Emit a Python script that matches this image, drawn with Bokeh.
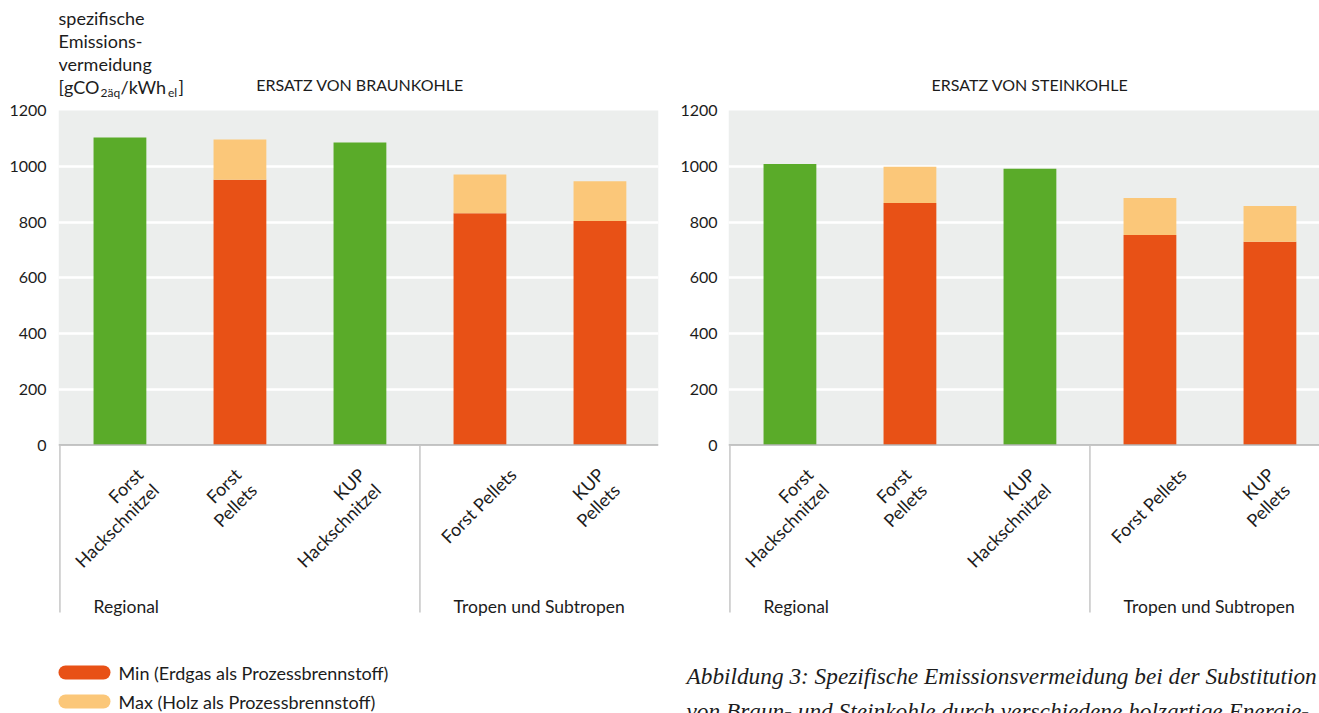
import math

from bokeh.core.properties import value
from bokeh.embed import file_html
from bokeh.layouts import column, row
from bokeh.models import FixedTicker, Range1d
from bokeh.plotting import figure
from bokeh.resources import INLINE

# --- data -------------------------------------------------------------------
categories = ["Forst\nHackschnitzel", "Forst\nPellets", "KUP\nHackschnitzel",
              "Forst Pellets", "KUP\nPellets"]
fuel_kind = ["chips", "pellets", "chips", "pellets", "pellets"]
regions = ["Regional", "Tropen und Subtropen"]
region_first = [0, 3]

# specific avoided emissions, gCO2eq/kWh_el
braun_min = [1103, 952, 1085, 831, 804]
braun_max = [1103, 1096, 1085, 970, 946]
stein_min = [1008, 868, 991, 753, 729]
stein_max = [1008, 998, 991, 886, 857]

y_ticks = [0, 200, 400, 600, 800, 1000, 1200]
panel_titles = ["ERSATZ VON BRAUNKOHLE", "ERSATZ VON STEINKOHLE"]
legend_labels = ["Min (Erdgas als Prozessbrennstoff)", "Max (Holz als Prozessbrennstoff)"]
caption_lines = [
    "Abbildung 3: Spezifische Emissionsvermeidung bei der Substitution",
    "von Braun- und Steinkohle durch verschiedene holzartige Energie-",
]

# --- styling / geometry -----------------------------------------------------
GREEN = "#5aab29"
ORANGE = "#e85116"
LIGHT = "#fbc779"
BG = "#eceeed"
TXT = "#1c1c1c"
FONT = "Lato"

W = 1319
H = 713
TOP_H = 650               # height of the two chart panels; legend strip below
CAT_PX = 120.0            # pixels per category slot
Y_ZERO_PX = 444.5         # pixel row of the zero line
PX_PER_UNIT = 334.5 / 1200.0
BAR_W = 0.44
X0 = -0.012               # left end of each x range
label_nudge_px = [12, -10, -6, 25, -7]   # per-category shift of the slanted labels


def py(pixel_row):
    """Data y for a pixel row of a chart panel."""
    return (Y_ZERO_PX - pixel_row) / PX_PER_UNIT


def make_panel(title, vmin, vmax, width, border_left, border_right, standoff):
    frame_w = width - border_left - border_right
    x_end = X0 + frame_w / CAT_PX
    p = figure(width=width, height=TOP_H, title=None, toolbar_location=None,
               output_backend="svg", x_range=Range1d(X0, x_end),
               y_range=Range1d(py(TOP_H), py(0)), x_axis_location=None,
               min_border_left=border_left, min_border_right=border_right,
               min_border_top=0, min_border_bottom=0)
    p.outline_line_color = None
    p.background_fill_color = "white"
    p.border_fill_color = "white"

    ax = p.yaxis[0]
    ax.ticker = FixedTicker(ticks=y_ticks)
    ax.axis_line_color = None
    ax.major_tick_line_color = None
    ax.minor_tick_line_color = None
    ax.major_label_standoff = standoff
    ax.major_label_text_font = FONT
    ax.major_label_text_font_size = "16px"
    ax.major_label_text_color = TXT

    p.xgrid.visible = False
    p.ygrid.ticker = FixedTicker(ticks=y_ticks[1:-1])
    p.ygrid.grid_line_color = "white"
    p.ygrid.grid_line_width = 2.5

    # plot background band
    p.quad(left=X0, right=x_end, bottom=0, top=y_ticks[-1],
           fill_color=BG, line_color=None, level="image")

    xs = [i + 0.5 for i in range(len(categories))]
    colors = [GREEN if k == "chips" else ORANGE for k in fuel_kind]
    p.vbar(x=xs, width=BAR_W, bottom=0, top=vmin, fill_color=colors, line_color=None)
    p.vbar(x=xs, width=BAR_W, bottom=vmin, top=vmax, fill_color=LIGHT, line_color=None)

    # zero line and region separators
    p.segment(x0=X0, y0=0, x1=x_end, y1=0, line_color="#b3b3b3", line_width=1.5)
    seps = [float(r) for r in region_first]
    p.segment(x0=seps, y0=[0] * len(seps), x1=seps, y1=[py(612)] * len(seps),
              line_color="#c6c6c6", line_width=1.5)

    # slanted category labels
    lx = [x + n / CAT_PX for x, n in zip(xs, label_nudge_px)]
    p.text(x=lx, y=[py(463)] * len(lx), text=categories, angle=math.pi / 4,
           text_align="right", text_baseline="top", text_font=value(FONT),
           text_font_size="18px", text_color=TXT, text_line_height=1.0)

    # region labels
    rx = [r + 0.5 - BAR_W / 2 for r in region_first]
    p.text(x=rx, y=[py(606)] * len(rx), text=regions, text_align="left",
           text_baseline="middle", text_font=value(FONT), text_font_size="17.5px",
           text_color=TXT)

    # panel heading
    p.text(x=[len(categories) / 2], y=[py(84)], text=[title], text_align="center",
           text_baseline="middle", text_font=value(FONT), text_font_size="16px",
           text_color=TXT)
    return p


left = make_panel(panel_titles[0], braun_min, braun_max, 660, 58, 2, 6)
right = make_panel(panel_titles[1], stein_min, stein_max, 659, 68, 0, 5)


def lx_px(pixel_col, border_left=58):
    return X0 + (pixel_col - border_left) / CAT_PX


# y-axis title (multi-line, with subscripts)
title_lines = ["spezifische", "Emissions-", "vermeidung"]
left.text(x=[lx_px(58)] * 3, y=[py(17), py(40), py(63)], text=title_lines,
          text_align="left", text_baseline="middle", text_font=value(FONT),
          text_font_size="18px", text_color=TXT)
unit_parts = [("[gCO", 58, 86, "18px"), ("2äq", 100, 92, "12px"), ("/kWh", 120, 86, "18px"),
              ("el", 167.5, 92, "12px"), ("]", 178, 86, "18px")]
for txt, xp, yp, fs in unit_parts:
    left.text(x=[lx_px(xp)], y=[py(yp)], text=[txt], text_align="left",
              text_baseline="middle", text_font=value(FONT), text_font_size=fs,
              text_color=TXT)

# bottom strip: legend and figure caption, laid out in pixel coordinates
foot = figure(width=W, height=H - TOP_H, title=None, toolbar_location=None,
              output_backend="svg", x_range=Range1d(0, W),
              y_range=Range1d(H, TOP_H), x_axis_location=None, y_axis_location=None,
              min_border_left=0, min_border_right=0, min_border_top=0,
              min_border_bottom=0)
foot.outline_line_color = None
foot.grid.visible = False

legend_colors = [ORANGE, LIGHT]
for i, (lab, col) in enumerate(zip(legend_labels, legend_colors)):
    yy = 672 + 29 * i
    foot.segment(x0=65, y0=yy, x1=103, y1=yy, line_color=col,
                 line_width=14, line_cap="round")
    foot.text(x=[118], y=[yy], text=[lab], text_align="left",
              text_baseline="middle", text_font=value(FONT), text_font_size="18px",
              text_color=TXT)

for i, line in enumerate(caption_lines):
    foot.text(x=[686], y=[675 + 35 * i], text=[line], text_align="left",
              text_baseline="middle", text_font=value("Liberation Serif"),
              text_font_style="italic", text_font_size="23.3px", text_color=TXT)

layout = column(row(left, right), foot)
open("out.html", "w").write(file_html(layout, INLINE))
